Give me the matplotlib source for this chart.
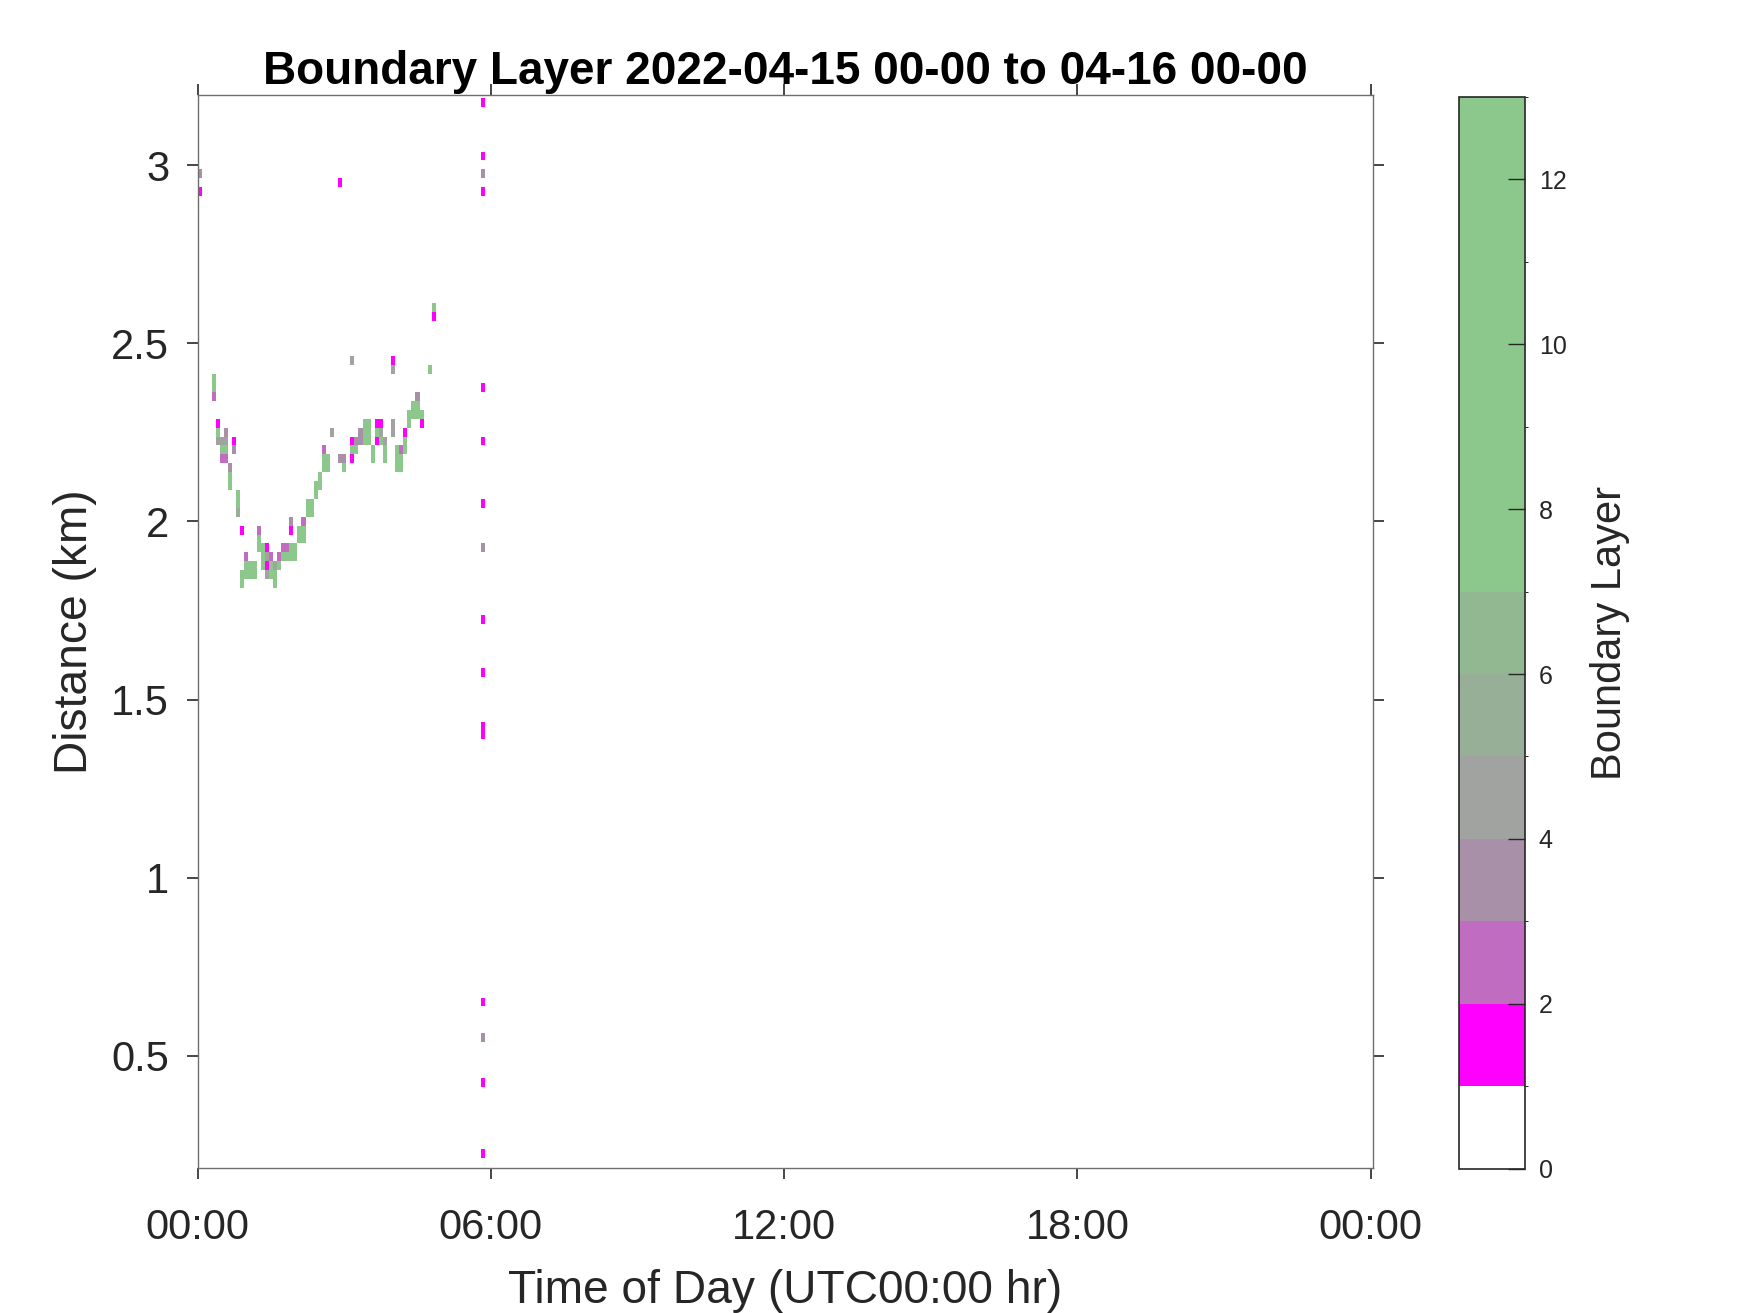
import numpy as np
import matplotlib
matplotlib.use("Agg")
import matplotlib.pyplot as plt
from matplotlib.colors import ListedColormap, BoundaryNorm

plt.rcParams['font.family'] = ['Liberation Sans', 'DejaVu Sans']

# boundary layer detections: time of day (minutes), height (km), class value
bl_minutes = [
    0, 0, 175, 290, 290, 190, 240, 240, 285,
    20, 20, 20, 25, 25, 25, 30, 30, 30, 35, 35, 35, 35,
    40, 40, 40, 45, 45, 50, 50, 50, 55, 55, 55,
    60, 60, 60, 65, 65, 70, 70, 75, 75, 75, 80, 80, 80,
    85, 85, 85, 85, 90, 90, 90, 95, 95, 95, 100, 100,
    105, 105, 110, 110, 115, 115, 115, 115, 120, 120,
    125, 125, 130, 130, 130, 135, 135, 140, 140, 145, 145,
    150, 150, 155, 155, 155, 160, 160, 165, 175, 180, 180,
    190, 190, 190, 195, 195, 200, 200, 205, 205, 205, 210, 210, 210,
    215, 215, 220, 220, 220, 225, 225, 225, 230, 230, 230,
    240, 240, 245, 245, 245, 250, 250, 250, 255, 255, 255,
    260, 260, 265, 265, 270, 270, 270, 275, 275,
    350, 350, 350, 350, 350, 350, 350, 350, 350, 350, 350, 350, 350, 350, 350, 350,
]
bl_height_km = [
    2.976, 2.926, 2.951, 2.601, 2.576, 2.451, 2.451, 2.426, 2.426,
    2.401, 2.376, 2.351, 2.276, 2.251, 2.226, 2.226, 2.201, 2.176, 2.251, 2.226, 2.201, 2.176,
    2.151, 2.126, 2.101, 2.226, 2.201, 2.076, 2.051, 2.026, 1.976, 1.851, 1.826,
    1.901, 1.876, 1.851, 1.876, 1.851, 1.876, 1.851, 1.976, 1.951, 1.926, 1.926, 1.901, 1.876,
    1.926, 1.901, 1.876, 1.851, 1.901, 1.876, 1.851, 1.876, 1.851, 1.826, 1.901, 1.876,
    1.926, 1.901, 1.926, 1.901, 2.001, 1.976, 1.926, 1.901, 1.926, 1.901,
    1.976, 1.951, 2.001, 1.976, 1.951, 2.051, 2.026, 2.051, 2.026, 2.101, 2.076,
    2.126, 2.101, 2.201, 2.176, 2.151, 2.176, 2.151, 2.251, 2.176, 2.176, 2.151,
    2.226, 2.201, 2.176, 2.226, 2.201, 2.251, 2.226, 2.276, 2.251, 2.226, 2.276, 2.251, 2.226,
    2.201, 2.176, 2.276, 2.251, 2.226, 2.276, 2.251, 2.226, 2.226, 2.201, 2.176,
    2.276, 2.251, 2.201, 2.176, 2.151, 2.201, 2.176, 2.151, 2.251, 2.226, 2.201,
    2.301, 2.276, 2.326, 2.301, 2.351, 2.326, 2.301, 2.301, 2.276,
    3.176, 3.026, 2.976, 2.926, 2.376, 2.226, 2.051, 1.926, 1.726, 1.576, 1.426, 1.401,
    0.651, 0.551, 0.426, 0.226,
]
bl_class = [
    3, 1, 1, 12, 1, 4, 1, 4, 12,
    12, 12, 2, 1, 12, 4, 4, 12, 2, 3, 4, 12, 2,
    3, 12, 12, 1, 3, 12, 12, 5, 1, 12, 12,
    2, 12, 12, 12, 12, 12, 12, 2, 12, 12, 12, 12, 12,
    1, 4, 1, 4, 2, 12, 12, 4, 12, 12, 2, 12,
    2, 12, 2, 12, 3, 1, 12, 12, 12, 12,
    12, 12, 2, 12, 12, 12, 12, 12, 12, 12, 12,
    12, 12, 2, 12, 12, 12, 12, 4, 3, 3, 12,
    1, 12, 1, 3, 12, 3, 3, 12, 12, 12, 12, 12, 12,
    12, 12, 1, 12, 1, 1, 4, 12, 4, 12, 12,
    4, 4, 12, 12, 12, 2, 12, 12, 1, 12, 12,
    12, 12, 12, 12, 3, 12, 12, 12, 1,
    1, 1, 3, 1, 1, 1, 1, 3, 1, 1, 1, 1,
    1, 3, 1, 1,
]

level_colors = ['#ffffff', '#ff00ff', '#c06cc0', '#a890a8', '#a0a3a0', '#97ae97', '#92b892',
                '#8cc88c', '#8cc88c', '#8cc88c', '#8cc88c', '#8cc88c', '#8cc88c']

# regular grid: 5-min bins, 25 m gates
t_step = 5
z_step = 0.025
t_centers = np.arange(0, 1440 + t_step, t_step)
z_centers = np.round(np.arange(0.201, 3.2, z_step), 3)
grid = np.zeros((len(z_centers), len(t_centers)))
for t, z, c in zip(bl_minutes, bl_height_km, bl_class):
    i = int(round(t / t_step))
    j = int(round((z - z_centers[0]) / z_step))
    grid[j, i] = c

t_edges = np.append(t_centers, t_centers[-1] + t_step) - t_step / 2
# first profile starts at midnight, give it a full bin from the axis edge
t_edges[0] = 0
t_edges[1] = t_step
t_edges = t_edges / 60.0
z_edges = np.append(z_centers, z_centers[-1] + z_step) - z_step / 2

cmap = ListedColormap(level_colors)
norm = BoundaryNorm(np.arange(0, 14), cmap.N)

fig = plt.figure(figsize=(17.5, 13.13), dpi=100)
ax = fig.add_axes([0.1129, 0.1104, 0.6716, 0.8169])
mesh = ax.pcolormesh(t_edges, z_edges, grid, cmap=cmap, norm=norm,
                     shading='flat', antialiased=False, rasterized=True)

ax.set_xlim(0, 24.045)
ax.set_ylim(0.185, 3.196)
ax.set_xticks([0, 6, 12, 18, 24])
ax.set_xticklabels(['00:00', '06:00', '12:00', '18:00', '00:00'])
ax.set_yticks([0.5, 1, 1.5, 2, 2.5, 3])
ax.set_yticklabels(['0.5', '1', '1.5', '2', '2.5', '3'])
ax.tick_params(direction='out', length=8, width=1.2, color='#262626',
               labelsize=30, labelcolor='#262626', top=True, right=True)
ax.tick_params(axis='x', pad=21)
ax.tick_params(axis='y', pad=12.5)
for s in ax.spines.values():
    s.set_color('#6e6e6e')
    s.set_linewidth(1.0)

ax.set_xlabel('Time of Day (UTC00:00 hr)', fontsize=33.2, color='#262626', labelpad=15)
ax.set_ylabel('Distance (km)', fontsize=33.2, color='#262626', labelpad=10)
ax.set_title('Boundary Layer 2022-04-15 00-00 to 04-16 00-00', fontsize=33,
             fontweight='bold', color='black', pad=8)

cax = fig.add_axes([0.8336, 0.1100, 0.0377, 0.8161])
cb = fig.colorbar(mesh, cax=cax, ticks=np.arange(0, 13, 2))
cb.outline.set_edgecolor('#262626')
cb.outline.set_linewidth(1.2)
cax.tick_params(direction='in', length=12, width=1.0, color='#262626',
                labelsize=18, labelcolor='#262626', pad=10)
cb.set_label('Boundary Layer', fontsize=30, color='#262626', labelpad=17)

fig.savefig('out.png', dpi=100)
